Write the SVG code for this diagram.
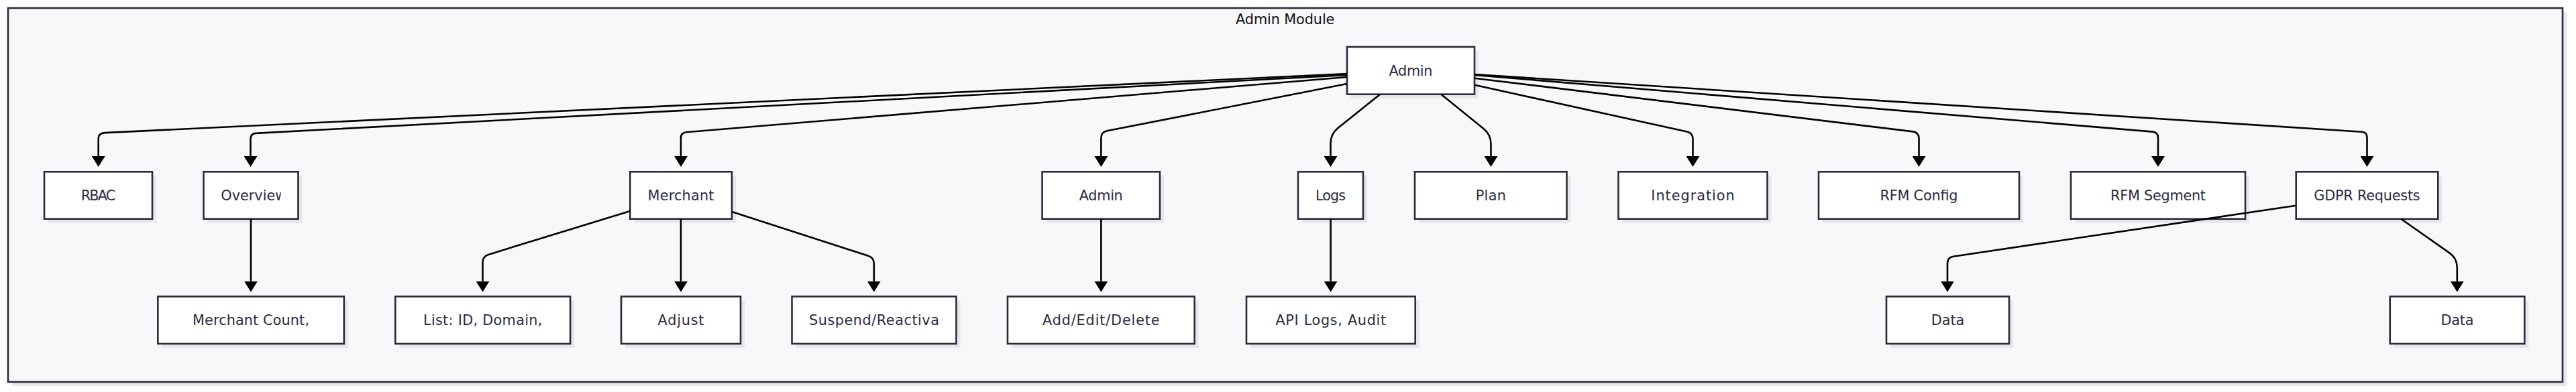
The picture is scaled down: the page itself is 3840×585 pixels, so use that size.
<svg xmlns="http://www.w3.org/2000/svg" width="3840" height="585" viewBox="0 0 3840 585">
<style>
.shadow{fill:#e6e6eb;stroke:none}
.node rect.box{fill:#ffffff;stroke:#2a2a3c;stroke-width:2.6}
.node text{font-family:"DejaVu Sans",sans-serif;font-size:20.8px;fill:#2b2b40;text-anchor:middle}
.cluster-box{fill:#f8f8fa;stroke:#2a2a3c;stroke-width:2.6}
.cluster-title{font-family:"DejaVu Sans",sans-serif;font-size:20.8px;fill:#111111;text-anchor:middle}
.edges path{fill:none;stroke:#000000;stroke-width:2.6;marker-end:url(#arrow)}
</style>
<defs>
<marker id="arrow" markerUnits="userSpaceOnUse" markerWidth="16" markerHeight="20" refX="0" refY="10" orient="auto" viewBox="0 0 16 20">
<path d="M0,0 L16,10 L0,20 z" fill="#000000"/>
</marker>
<clipPath id="clipOverview"><rect x="329" y="270" width="89.7" height="45"/></clipPath>
</defs>

<g id="cluster-admin-module">
<rect class="shadow" x="18" y="18" width="3808" height="558"/>
<rect class="cluster-box" x="12" y="12" width="3808" height="558"/>
<text class="cluster-title" x="1915.7" y="35.5" textLength="147.3" lengthAdjust="spacing">Admin Module</text>
</g>

<g id="node-admin-root" class="node">
<rect class="shadow" x="2014" y="76" width="190" height="70.7"/>
<rect class="box" x="2008" y="70" width="190" height="70.7"/>
<text x="2103" y="112.5" textLength="65" lengthAdjust="spacing">Admin</text>
</g>

<g id="node-rbac" class="node">
<rect class="shadow" x="72" y="262.3" width="161" height="70.4"/>
<rect class="box" x="66" y="256.3" width="161" height="70.4"/>
<text x="146.5" y="298.8" textLength="51.7" lengthAdjust="spacing">RBAC</text>
</g>

<g id="node-overview" class="node">
<rect class="shadow" x="309.5" y="262.3" width="141" height="70.4"/>
<rect class="box" x="303.5" y="256.3" width="141" height="70.4"/>
<text x="329.3" y="298.8" clip-path="url(#clipOverview)" style="text-anchor:start">Overview</text>
</g>

<g id="node-merchant" class="node">
<rect class="shadow" x="945.3" y="262.3" width="151.7" height="70.4"/>
<rect class="box" x="939.3" y="256.3" width="151.7" height="70.4"/>
<text x="1015" y="298.8" textLength="99" lengthAdjust="spacing">Merchant</text>
</g>

<g id="node-admin" class="node">
<rect class="shadow" x="1559.6" y="262.3" width="175.4" height="70.4"/>
<rect class="box" x="1553.6" y="256.3" width="175.4" height="70.4"/>
<text x="1641.3" y="298.8" textLength="65" lengthAdjust="spacing">Admin</text>
</g>

<g id="node-logs" class="node">
<rect class="shadow" x="1941" y="262.3" width="97" height="70.4"/>
<rect class="box" x="1935" y="256.3" width="97" height="70.4"/>
<text x="1983.5" y="298.8" textLength="45" lengthAdjust="spacing">Logs</text>
</g>

<g id="node-plan" class="node">
<rect class="shadow" x="2115" y="262.3" width="226.5" height="70.4"/>
<rect class="box" x="2109" y="256.3" width="226.5" height="70.4"/>
<text x="2222.3" y="298.8" textLength="45.3" lengthAdjust="spacing">Plan</text>
</g>

<g id="node-integration" class="node">
<rect class="shadow" x="2418.5" y="262.3" width="222" height="70.4"/>
<rect class="box" x="2412.5" y="256.3" width="222" height="70.4"/>
<text x="2523.5" y="298.8" textLength="124.4" lengthAdjust="spacing">Integration</text>
</g>

<g id="node-rfm-config" class="node">
<rect class="shadow" x="2717" y="262.3" width="299" height="70.4"/>
<rect class="box" x="2711" y="256.3" width="299" height="70.4"/>
<text x="2860.5" y="298.8" textLength="116" lengthAdjust="spacing">RFM Config</text>
</g>

<g id="node-rfm-segment" class="node">
<rect class="shadow" x="3093" y="262.3" width="260" height="70.4"/>
<rect class="box" x="3087" y="256.3" width="260" height="70.4"/>
<text x="3217" y="298.8" textLength="142" lengthAdjust="spacing">RFM Segment</text>
</g>

<g id="node-gdpr" class="node">
<rect class="shadow" x="3428.7" y="262.3" width="211.6" height="70.4"/>
<rect class="box" x="3422.7" y="256.3" width="211.6" height="70.4"/>
<text x="3528.5" y="298.8" textLength="158.3" lengthAdjust="spacing">GDPR Requests</text>
</g>

<g id="node-merchant-count" class="node">
<rect class="shadow" x="241.3" y="448.5" width="277.5" height="70.5"/>
<rect class="box" x="235.3" y="442.5" width="277.5" height="70.5"/>
<text x="374" y="484.6" textLength="174" lengthAdjust="spacing">Merchant Count,</text>
</g>

<g id="node-list" class="node">
<rect class="shadow" x="595.3" y="448.5" width="260.8" height="70.5"/>
<rect class="box" x="589.3" y="442.5" width="260.8" height="70.5"/>
<text x="719.7" y="484.6" textLength="177.3" lengthAdjust="spacing">List: ID, Domain,</text>
</g>

<g id="node-adjust" class="node">
<rect class="shadow" x="932" y="448.5" width="178" height="70.5"/>
<rect class="box" x="926" y="442.5" width="178" height="70.5"/>
<text x="1015" y="484.6" textLength="69" lengthAdjust="spacing">Adjust</text>
</g>

<g id="node-suspend" class="node">
<rect class="shadow" x="1186.5" y="448.5" width="245" height="70.5"/>
<rect class="box" x="1180.5" y="442.5" width="245" height="70.5"/>
<text x="1303" y="484.6" textLength="193.9" lengthAdjust="spacing">Suspend/Reactiva</text>
</g>

<g id="node-add-edit-delete" class="node">
<rect class="shadow" x="1508" y="448.5" width="278.7" height="70.5"/>
<rect class="box" x="1502" y="442.5" width="278.7" height="70.5"/>
<text x="1641.3" y="484.6" textLength="174.7" lengthAdjust="spacing">Add/Edit/Delete</text>
</g>

<g id="node-api-logs" class="node">
<rect class="shadow" x="1864" y="448.5" width="251.7" height="70.5"/>
<rect class="box" x="1858" y="442.5" width="251.7" height="70.5"/>
<text x="1983.8" y="484.6" textLength="164.7" lengthAdjust="spacing">API Logs, Audit</text>
</g>

<g id="node-data-1" class="node">
<rect class="shadow" x="2818" y="448.5" width="183" height="70.5"/>
<rect class="box" x="2812" y="442.5" width="183" height="70.5"/>
<text x="2903.5" y="484.6" textLength="49.7" lengthAdjust="spacing">Data</text>
</g>

<g id="node-data-2" class="node">
<rect class="shadow" x="3568.7" y="448.5" width="200.6" height="70.5"/>
<rect class="box" x="3562.7" y="442.5" width="200.6" height="70.5"/>
<text x="3663" y="484.6" textLength="49.2" lengthAdjust="spacing">Data</text>
</g>

<g id="connectors" class="edges">
<path d="M2008,110 L156.7,198.1 Q146.7,198.5 146.7,206.5 L146.7,233"/>
<path d="M2008,112 L381.5,198.9 Q373.5,199.3 373.5,207.3 L373.5,233"/>
<path d="M2008,115 L1023,197.3 Q1015,198 1015,206 L1015,233"/>
<path d="M2008,125 L1650.3,195.3 Q1641.4,197 1641.4,206 L1641.4,233"/>
<path d="M2057.3,140.7 L1994.2,191.2 Q1983.5,200 1983.5,214 L1983.5,233"/>
<path d="M2148.3,140.7 L2211.8,192.2 Q2222.5,201 2222.5,215 L2222.5,233"/>
<path d="M2198,126.7 L2514.7,196.6 Q2523.5,198.5 2523.5,207.5 L2523.5,233"/>
<path d="M2198,116.7 L2851.6,196.4 Q2860.5,197.5 2860.5,206.5 L2860.5,233"/>
<path d="M2198,112 L3209,196.6 Q3217,197.3 3217,205.3 L3217,233"/>
<path d="M2198,111 L3520.5,196.8 Q3528.5,197.3 3528.5,205.3 L3528.5,233"/>
<path d="M374,326.7 L374,419.7"/>
<path d="M939.3,315 L728.1,379.9 Q719.5,382.5 719.5,391.5 L719.5,419.7"/>
<path d="M1015,326.7 L1015,419.7"/>
<path d="M1091,316 L1294.1,381.7 Q1302.8,384.5 1302.8,393.5 L1302.8,419.7"/>
<path d="M1641.4,326.7 L1641.4,419.7"/>
<path d="M1983.6,326.7 L1983.6,419.7"/>
<path d="M3422.7,306.7 L2911.9,382.7 Q2903,384 2903,393 L2903,419.7"/>
<path d="M3579.3,326.7 L3651.3,377.4 Q3662.8,385.5 3662.8,399.5 L3662.8,419.7"/>
</g>
</svg>
